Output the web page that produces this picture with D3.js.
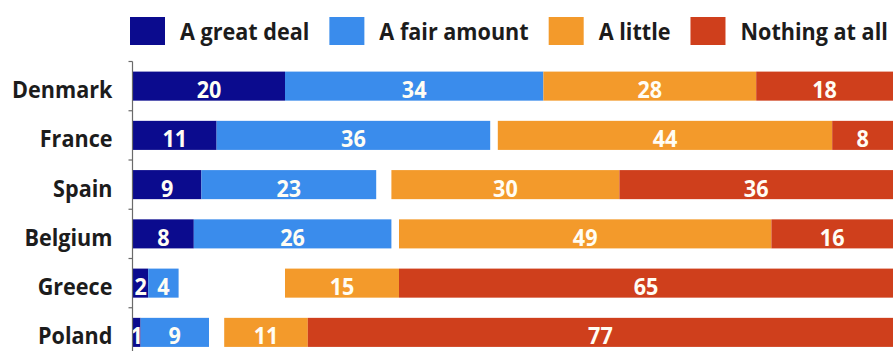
<!DOCTYPE html>
<html>
<head>
<meta charset="utf-8">
<script src="https://cdn.jsdelivr.net/npm/d3@7"></script>
<style>
  html, body { margin: 0; padding: 0; background: #ffffff; }
  svg { display: block; }
  text { font-family: "Open Sans", "DejaVu Sans", sans-serif; font-weight: 700; }
</style>
</head>
<body>
<svg id="chart" width="894" height="351"></svg>
<script>
// Survey answers, percent per country
const countries = ["Denmark", "France", "Spain", "Belgium", "Greece", "Poland"];
const greatDeal   = [20, 11, 9, 8, 2, 1];
const fairAmount  = [34, 36, 23, 26, 4, 9];
const aLittle     = [28, 44, 30, 49, 15, 11];
const nothingAtAll = [18, 8, 36, 16, 65, 77];
const seriesNames = ["A great deal", "A fair amount", "A little", "Nothing at all"];
const seriesColors = ["#0b0b8e", "#3a8cec", "#f39a2b", "#cf3f1c"];

const svg = d3.select("#chart");
const W = 894, H = 351;
const FONT = 24, SQUEEZE = 0.9;

// Narrow the glyphs horizontally around the text anchor to get a condensed face
function condense(sel) {
  sel.each(function () {
    const t = d3.select(this);
    const tx = +t.attr("x") || 0, ty = +t.attr("y") || 0;
    t.attr("x", 0).attr("y", 0)
      .attr("transform", `translate(${tx},${ty}) scale(${SQUEEZE},1)`);
  });
}

const x = d3.scaleLinear().domain([0, 100]).range([133, 893]);
const y = d3.scaleBand().domain(countries).range([61.5, 357])
  .paddingInner(0.41).paddingOuter(0.205);

// Positive answers stack from the left, negative answers from the right
const segments = [];
countries.forEach((c, i) => {
  const g = greatDeal[i], f = fairAmount[i], l = aLittle[i], n = nothingAtAll[i];
  segments.push({ country: c, s: 0, x0: 0, x1: g, v: g });
  segments.push({ country: c, s: 1, x0: g, x1: g + f, v: f });
  segments.push({ country: c, s: 2, x0: 100 - n - l, x1: 100 - n, v: l });
  segments.push({ country: c, s: 3, x0: 100 - n, x1: 100, v: n });
});

svg.append("g").selectAll("rect")
  .data(segments)
  .join("rect")
  .attr("x", d => x(d.x0))
  .attr("y", d => y(d.country))
  .attr("width", d => x(d.x1) - x(d.x0))
  .attr("height", y.bandwidth())
  .attr("fill", d => seriesColors[d.s]);

svg.append("g").selectAll("text")
  .data(segments)
  .join("text")
  .attr("x", d => (x(d.x0) + x(d.x1)) / 2)
  .attr("y", d => y(d.country) + y.bandwidth() / 2 + 12)
  .attr("text-anchor", "middle")
  .attr("fill", "#fffdf4")
  .attr("font-size", FONT)
  .text(d => d.v)
  .call(condense);

// Category axis: labels via d3.axisLeft, vertical rule with ticks at band boundaries
const axis = svg.append("g")
  .attr("transform", `translate(${x(0) - 0.5},0)`)
  .call(d3.axisLeft(y).tickSize(0).tickPadding(20));
axis.select(".domain").remove();
axis.selectAll("text")
  .attr("font-size", FONT)
  .attr("font-family", null)
  .attr("fill", "#1c1c1c")
  .attr("dy", null)
  .attr("y", 12)
  .call(condense);

const axX = x(0) - 0.5;
svg.append("line")
  .attr("x1", axX).attr("x2", axX)
  .attr("y1", y.range()[0]).attr("y2", H)
  .attr("stroke", "#6a6a6a").attr("stroke-width", 1.2);
const boundaries = countries.map(c => y(c) - y.step() * y.paddingInner() / 2);
svg.append("g").selectAll("line")
  .data(boundaries)
  .join("line")
  .attr("x1", axX - 4).attr("x2", axX)
  .attr("y1", d => d).attr("y2", d => d)
  .attr("stroke", "#6a6a6a").attr("stroke-width", 1.2);

// Legend: swatch, label, then flow to the next item
const legend = svg.append("g");
let lx = 130;
seriesNames.forEach((name, i) => {
  legend.append("rect")
    .attr("x", lx).attr("y", 17)
    .attr("width", 35).attr("height", 28)
    .attr("fill", seriesColors[i]);
  const t = legend.append("text")
    .attr("x", lx + 50).attr("y", 40)
    .attr("font-size", FONT)
    .attr("fill", "#1c1c1c")
    .text(name)
    .call(condense);
  lx = lx + 50 + t.node().getComputedTextLength() * SQUEEZE + 20;
});
</script>
</body>
</html>
